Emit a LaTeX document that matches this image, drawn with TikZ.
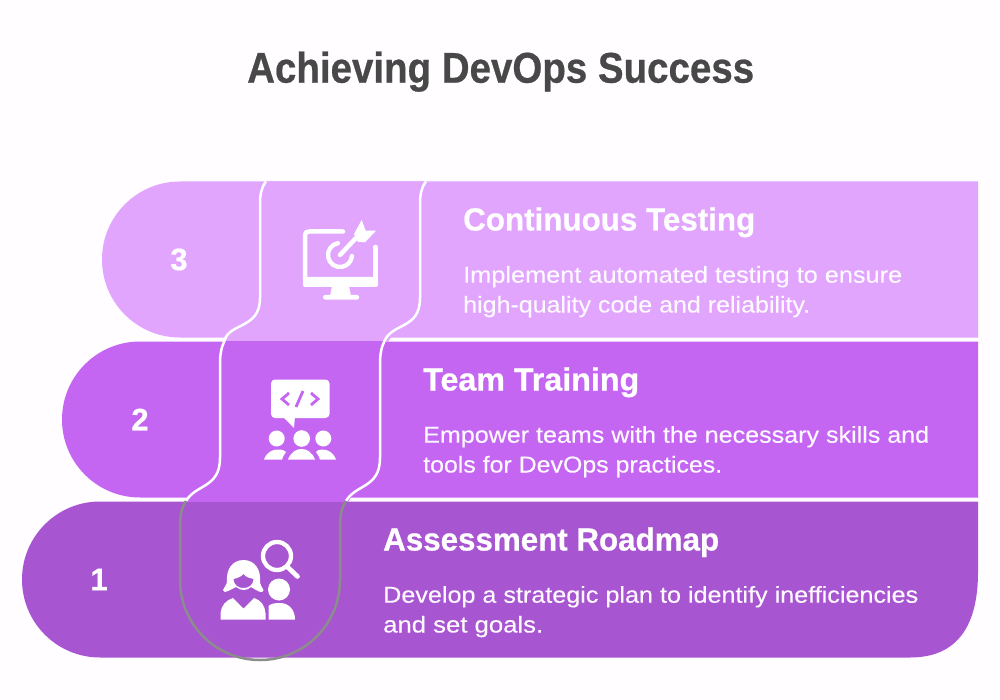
\documentclass[tikz,border=0pt]{standalone}
\usepackage{graphicx}
\usepackage{fontspec}
\setmainfont[FakeBold=0.25,BoldFeatures={FakeBold=0.6}]{Liberation Sans}
\definecolor{bgc}{HTML}{FFFDFF}
\definecolor{bandA}{HTML}{A855D1}
\definecolor{bandB}{HTML}{C566F3}
\definecolor{bandC}{HTML}{E1A5FE}
\definecolor{titlec}{HTML}{484848}
\definecolor{grayline}{HTML}{8C8C8C}
\newcommand{\fitw}[2]{\resizebox{#1pt}{\height}{#2}}
\tikzset{
  head/.style={anchor=base west,inner sep=0pt,text=white,font=\bfseries\fontsize{32}{32}\selectfont},
  body/.style={anchor=base west,inner sep=0pt,text=white!96!bandB,font=\fontsize{23}{23}\selectfont},
  num/.style={anchor=center,inner sep=0pt,text=white,font=\bfseries\fontsize{31}{31}\selectfont},
  title/.style={anchor=base west,inner sep=0pt,text=titlec,font=\bfseries\fontsize{43}{43}\selectfont},
  wig/.style={draw=white,line width=2.5pt},
  ic/.style={fill=white,draw=none},
  icl/.style={draw=white,line width=4.5pt,line cap=round,line join=round,fill=none}
}
\begin{document}
\begin{tikzpicture}[x=1pt,y=-1pt]
\path[use as bounding box,fill=bgc] (0,0) rectangle (1000,700);
% bands
\fill[bandC] (180,181.5) -- (978,181.5) -- (978,337.5) -- (180,337.5) arc[start angle=90,end angle=270,radius=78] -- cycle;
\fill[bandB] (140,341.5) -- (978,341.5) -- (978,497.5) -- (140,497.5) arc[start angle=90,end angle=270,radius=78] -- cycle;
\fill[bandA] (100,501.5) -- (978,501.5) -- (978,572) .. controls (978,625) and (958,657.5) .. (910,657.5) -- (100,657.5) arc[start angle=90,end angle=270,radius=78] -- cycle;
% middle sections closing the gaps between bands
\begin{scope}
\clip (0,181) rectangle (1000,341.5);
\fill[bandC] (266,181.5) .. controls (261,188) and (260,195) .. (260,205) -- (260,298) .. controls (260,330) and (228,322) .. (222,350) -- (385,350) .. controls (392,322) and (420,330) .. (420,298) -- (420,205) .. controls (420,195) and (421,188) .. (426,181.5) -- cycle;
\end{scope}
\begin{scope}
\clip (0,341) rectangle (1000,501.5);
\fill[bandB] (226,341) .. controls (221,348) and (220,355) .. (220,365) -- (220,458) .. controls (220,490) and (188,482) .. (182,510) -- (345,510) .. controls (352,482) and (380,490) .. (380,458) -- (380,365) .. controls (380,355) and (381,348) .. (386,341) -- cycle;
\end{scope}
% wiggly outlines
\draw[wig] (266,181.5) .. controls (261,188) and (260,195) .. (260,205) -- (260,298) .. controls (260,330) and (228,322) .. (224,342) .. controls (221,348) and (220,355) .. (220,365) -- (220,458) .. controls (220,488) and (196,484) .. (186,501);
\draw[wig] (426,181.5) .. controls (421,188) and (420,195) .. (420,205) -- (420,298) .. controls (420,330) and (392,322) .. (384,342) .. controls (381,348) and (380,355) .. (380,365) -- (380,458) .. controls (380,488) and (356,484) .. (346,501);
\draw[draw=grayline,line width=2.5pt] (186,501) .. controls (182,507) and (180,515) .. (180,525) -- (180,580) arc[start angle=180,end angle=0,radius=80] -- (340,525) .. controls (340,515) and (342,507) .. (346,501);
% numbers
\node[num] (n3) at (179,259.5) {3};
\node[num] (n2) at (140,419.5) {2};
\node[num] (n1) at (99,579.5) {1};
% title and texts
\node[title] (ttl) at (247,82.7) {\fitw{507}{Achieving DevOps Success}};
\node[head] (h3) at (463,230.5) {\fitw{292}{Continuous Testing}};
\node[body] (b3a) at (463,282.7) {\fitw{439}{Implement automated testing to ensure}};
\node[body] (b3b) at (463,312.5) {\fitw{347}{high-quality code and reliability.}};
\node[head] (h2) at (423,390.5) {\fitw{216}{Team Training}};
\node[body] (b2a) at (423,442.7) {\fitw{506}{Empower teams with the necessary skills and}};
\node[body] (b2b) at (423,472.5) {\fitw{299}{tools for DevOps practices.}};
\node[head] (h1) at (383,550.5) {\fitw{336}{Assessment Roadmap}};
\node[body] (b1a) at (383,602.7) {\fitw{535}{Develop a strategic plan to identify inefficiencies}};
\node[body] (b1b) at (383,632.5) {\fitw{160}{and set goals.}};
% icon 3: monitor and target
\draw[icl] (343,231.5) -- (309,231.5) .. controls (306,231.5) and (305.2,232.5) .. (305.2,235) -- (305.2,280);
\draw[icl] (375.5,247) -- (375.5,280);
\fill[white,rounded corners=2pt] (303,277) -- (378,277) -- (378,287) -- (303,287) -- cycle;
\fill[white] (332,286) -- (349,286) -- (351,296) -- (330,296) -- cycle;
\fill[white,rounded corners=1.5pt] (323,295) rectangle (359,299.5);
\draw[draw=white,line width=4.3pt,line cap=round] (337.9,243.2) arc[start angle=-100,end angle=-355,radius=12];
\draw[draw=white,line width=4.5pt,line cap=round] (340,255) -- (356,238);
\fill[ic] (354,234) -- (361.7,220) -- (365.7,230.7) -- (376,230.7) -- (365,242.3) -- (357.7,241.7) -- cycle;
% icon 2: speech bubble and audience
\fill[ic,rounded corners=4pt] (271,379.5) -- (329.5,379.5) -- (329.5,418) -- (271,418) -- cycle;
\fill[ic] (282,416) -- (295,416) -- (294,428) -- cycle;
\draw[draw=bandB,line width=2.8pt,line join=miter] (289,393) -- (282,399) -- (289,405);
\draw[draw=bandB,line width=2.8pt] (303,391) -- (296,407);
\draw[draw=bandB,line width=2.8pt,line join=miter] (311,393) -- (318,399) -- (311,405);
\fill[ic] (276.7,438.5) circle[radius=8];
\fill[ic] (301.7,438.5) circle[radius=8.3];
\fill[ic] (323.3,438.5) circle[radius=8];
\fill[ic] (264,459.5) .. controls (267,452) and (272,449.5) .. (278,449.5) .. controls (282,449.5) and (285,450.5) .. (286,452) .. controls (284,454) and (283,457) .. (282,459.5) -- cycle;
\fill[ic] (288,459.5) .. controls (291,452) and (296,449) .. (301.5,449) .. controls (307,449) and (312,452) .. (315,459.5) -- cycle;
\fill[ic] (336,459.5) .. controls (333,452) and (328,449.5) .. (322,449.5) .. controls (319,449.5) and (317,450.5) .. (316,452) .. controls (318,454) and (319,457) .. (320,459.5) -- cycle;
% icon 1: two people and magnifier
\draw[draw=white,line width=4.3pt] (277,556) circle[radius=14];
\draw[draw=white,line width=4.7pt,line cap=round] (287,566.5) -- (297.5,576.5);
\fill[ic] (279,589.5) circle[radius=11];
\fill[ic] (268.5,619.5) -- (268.5,606) .. controls (271,603.5) and (275,603) .. (280,603) .. controls (289,603) and (295,610) .. (295,619.5) -- cycle;
\fill[ic,even odd rule] (243.5,560) .. controls (232,560) and (226,570) .. (227,581) .. controls (227,585) and (224,587) .. (223,590) .. controls (223,592) and (226,593) .. (228,591) .. controls (232,589) and (234,588) .. (236,587) .. controls (241,591) and (247,591) .. (251,587) .. controls (254,589) and (256,590) .. (259,591.5) .. controls (261,593) and (264,592) .. (263.5,590) .. controls (262,587) and (260,585) .. (260,581) .. controls (261,570) and (255,560) .. (243.5,560) -- cycle (243.5,574) .. controls (240,578) and (236,578) .. (233.5,579) .. controls (234,586) and (239,588) .. (243.5,588) .. controls (248,588) and (253,586) .. (253.5,579) .. controls (250,578) and (247,578) .. (243.5,574) -- cycle;
\fill[ic] (220.5,619.5) -- (220.5,613) .. controls (221,606) and (226,600) .. (233,598) -- (243.5,608.5) -- (254,598) .. controls (261,600) and (265,606) .. (265.5,613) -- (265.5,619.5) -- cycle;
\end{tikzpicture}
\end{document}
